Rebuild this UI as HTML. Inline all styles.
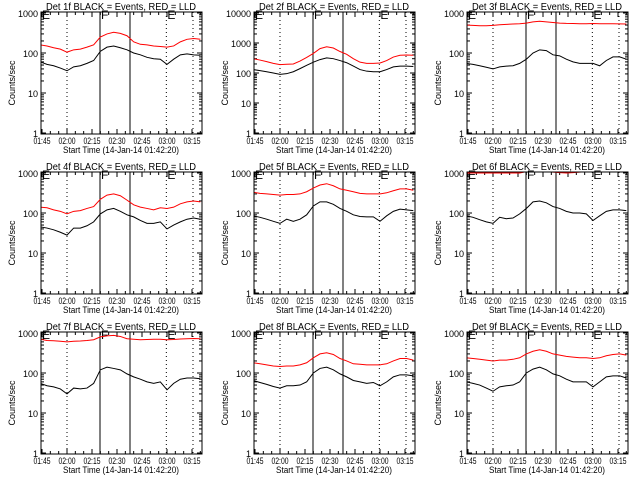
<!DOCTYPE html>
<html><head><meta charset="utf-8"><style>
html,body{margin:0;padding:0;background:#fff;}
svg{display:block;font-family:"Liberation Sans",sans-serif;}
</style></head><body>
<svg id="chart" width="640" height="480" viewBox="0 0 640 480" xmlns="http://www.w3.org/2000/svg"></svg>
<script>
// minutes after 01:45
const times = [-1,3,7,11,15,19,23,27,31,35,39,43,47,51,55,59,63,67,71,75,79,83,87,91,95];
const xTickLabels = ["01:45","02:00","02:15","02:30","02:45","03:00","03:15"];
const xTickMinutes = [0,15,30,45,60,75,90];
const detectorNames = ["1f","2f","3f","4f","5f","6f","7f","8f","9f"];
const yDecades = [3,4,3,3,3,3,3,3,3];
const solidLineMinutes = [34.8,52.8];
const dottedLineMinutes = [15,74.6,90.6];
const markerLabels = ["E","F","E"];
const markerMinutes = [-0.6,34.8,74.6];
const black1 = [60,52,48,42,36,45,48,55,65,110,140,150,135,120,100,90,78,72,70,52,70,90,95,90,88];
const red1   = [160,150,135,125,105,120,125,140,160,250,300,330,310,270,190,165,160,150,145,140,150,190,220,230,220];
const black2 = [130,120,110,100,90,95,110,140,180,230,280,320,300,260,220,170,130,115,110,110,130,160,170,170,165];
const red2   = [300,270,240,210,190,195,200,250,330,450,650,750,680,520,420,300,230,210,210,215,260,340,390,400,390];
const black3 = [55,52,48,44,40,45,47,48,55,70,100,120,115,90,85,70,60,55,55,55,48,65,80,80,70];
const red3   = [500,490,480,480,490,510,520,530,540,560,600,620,600,580,560,550,545,540,540,545,540,540,540,535,530];
const black4 = [45,42,38,33,28,42,42,48,60,95,120,130,110,90,80,65,55,55,60,40,50,60,70,75,70];
const red4   = [140,135,120,110,95,110,115,130,145,220,280,300,270,210,160,140,130,120,135,130,140,170,190,200,190];
const black5 = [85,78,70,62,55,70,62,70,90,150,190,190,165,130,110,90,82,80,80,62,85,110,125,120,115];
const red5   = [330,310,300,290,280,290,290,300,340,420,500,540,480,400,370,340,310,300,300,300,320,360,400,400,370];
const black6 = [85,78,68,60,55,78,72,75,95,130,190,200,180,145,130,110,100,100,95,65,85,110,120,120,115];
const red6   = [1000,1000,1000,1000,1000,1000,1000,1000,1000,1080,1100,1100,1080,1050,1020,1000,1020,1050,1080,1100,1100,1100,1100,1100,1100];
const black7 = [55,48,45,40,30,42,40,42,55,120,140,130,120,95,80,70,60,55,60,38,55,70,75,75,72];
const red7   = [700,650,640,620,600,620,630,650,680,800,850,870,820,720,700,680,690,700,700,680,690,710,720,730,720];
const black8 = [65,58,52,46,42,48,48,50,60,100,130,140,120,95,80,65,60,55,58,48,60,80,90,90,85];
const red8   = [180,170,160,150,145,150,150,160,180,240,300,320,290,230,200,170,165,160,160,160,170,200,230,230,210];
const black9 = [60,55,50,42,35,45,48,50,60,100,125,140,120,95,85,70,60,60,60,45,60,80,85,85,75];
const red9   = [240,230,220,210,200,210,210,220,240,300,350,380,350,300,280,260,250,240,240,230,240,270,290,300,280];
const blackSeries = [black1,black2,black3,black4,black5,black6,black7,black8,black9];
const redSeries = [red1,red2,red3,red4,red5,red6,red7,red8,red9];

const NS = "http://www.w3.org/2000/svg";
const svg = document.getElementById("chart");
function mk(tag, attrs, parent){
  const e = document.createElementNS(NS, tag);
  for (const k in attrs) e.setAttribute(k, attrs[k]);
  (parent||svg).appendChild(e);
  return e;
}
for (let p = 0; p < 9; p++) {
  const col = p % 3, row = Math.floor(p / 3);
  const ox = col * 213, oy = row * 160;
  const L = ox + 41, R = ox + 202, T = oy + 12, B = oy + 134;
  const yBot = oy + 133, yTop = oy + 13;
  const dec = yDecades[p];
  const xs = m => ox + 42 + m * (25 / 15);
  const ys = v => yBot - (yBot - yTop) * Math.log10(v) / dec;
  const g = mk("g", {});
  
  
  const clipId = "clip" + p;
  const cp = mk("clipPath", {id: clipId}, g);
  mk("rect", {x: L, y: T, width: R - L, height: B - T}, cp);
  const t = mk("text", {x: ox + 121, y: oy + 10, "font-size": 10, "text-anchor": "middle", textLength: 150, lengthAdjust: "spacingAndGlyphs"}, g);
  t.textContent = "Det " + detectorNames[p] + " BLACK = Events, RED = LLD";
  
  
  const yl = mk("text", {x: 0, y: 0, "font-size": 9, "text-anchor": "middle", transform: "translate(" + (ox + 15) + "," + (oy + 83) + ") rotate(-90)"}, g);
  yl.textContent = "Counts/sec";
  
  
  const xl = mk("text", {x: ox + 121, y: oy + 153, "font-size": 9, "text-anchor": "middle", textLength: 116, lengthAdjust: "spacingAndGlyphs"}, g);
  xl.textContent = "Start Time (14-Jan-14 01:42:20)";
  
  
  for (let d = 0; d <= dec; d++) {
    const v = Math.pow(10, d), y = ys(v);
    mk("line", {x1: L, x2: L + 5, y1: y, y2: y, stroke: "#000"}, g);
    mk("line", {x1: R - 5, x2: R, y1: y, y2: y, stroke: "#000"}, g);
    const lb = mk("text", {x: L - 3, y: y + 4, "font-size": 9, "text-anchor": "end"}, g);
    lb.textContent = String(v);
    
    
    if (d < dec) for (let k = 2; k <= 9; k++) {
      const yy = ys(v * k);
      mk("line", {x1: L, x2: L + 3, y1: yy, y2: yy, stroke: "#000"}, g);
      mk("line", {x1: R - 3, x2: R, y1: yy, y2: yy, stroke: "#000"}, g);
    }
  }
  for (let m = 0; m <= 95; m += 5) {
    const x = xs(m), len = (m % 15 === 0) ? 5 : 3;
    mk("line", {x1: x, x2: x, y1: B, y2: B - len, stroke: "#000"}, g);
    mk("line", {x1: x, x2: x, y1: T, y2: T + len, stroke: "#000"}, g);
  }
  xTickMinutes.forEach((m, i) => {
    const lb = mk("text", {x: xs(m), y: oy + 144, "font-size": 9, "text-anchor": "middle", textLength: 17, lengthAdjust: "spacingAndGlyphs"}, g);
    lb.textContent = xTickLabels[i];
    
    
  });
  dottedLineMinutes.forEach(m => mk("line", {x1: xs(m), x2: xs(m), y1: T, y2: B, stroke: "#000", "stroke-dasharray": "1,3"}, g));
  solidLineMinutes.forEach(m => mk("line", {x1: xs(m), x2: xs(m), y1: T, y2: B, stroke: "#000"}, g));
  markerLabels.forEach((s, i) => {
    const lb = mk("text", {x: Math.max(xs(markerMinutes[i]), L) + 1, y: T + 7, "font-size": 12, transform: "scale(1,1)"}, g);
    lb.textContent = s;
    
    
  });
  const cg = mk("g", {"clip-path": "url(#" + clipId + ")"}, g);
  const red = mk("polyline", {points: redSeries[p].map((v, i) => xs(times[i]) + "," + ys(v)).join(" "), fill: "none", stroke: "#ff0000", "stroke-width": 1}, cg);
  
  
  const blk = mk("polyline", {points: blackSeries[p].map((v, i) => xs(times[i]) + "," + ys(v)).join(" "), fill: "none", stroke: "#000", "stroke-width": 1}, cg);
  
  
  const fr = mk("rect", {x: L, y: T, width: R - L, height: B - T, fill: "none", stroke: "#000"}, g);
  
  
}
</script>
</body></html>
